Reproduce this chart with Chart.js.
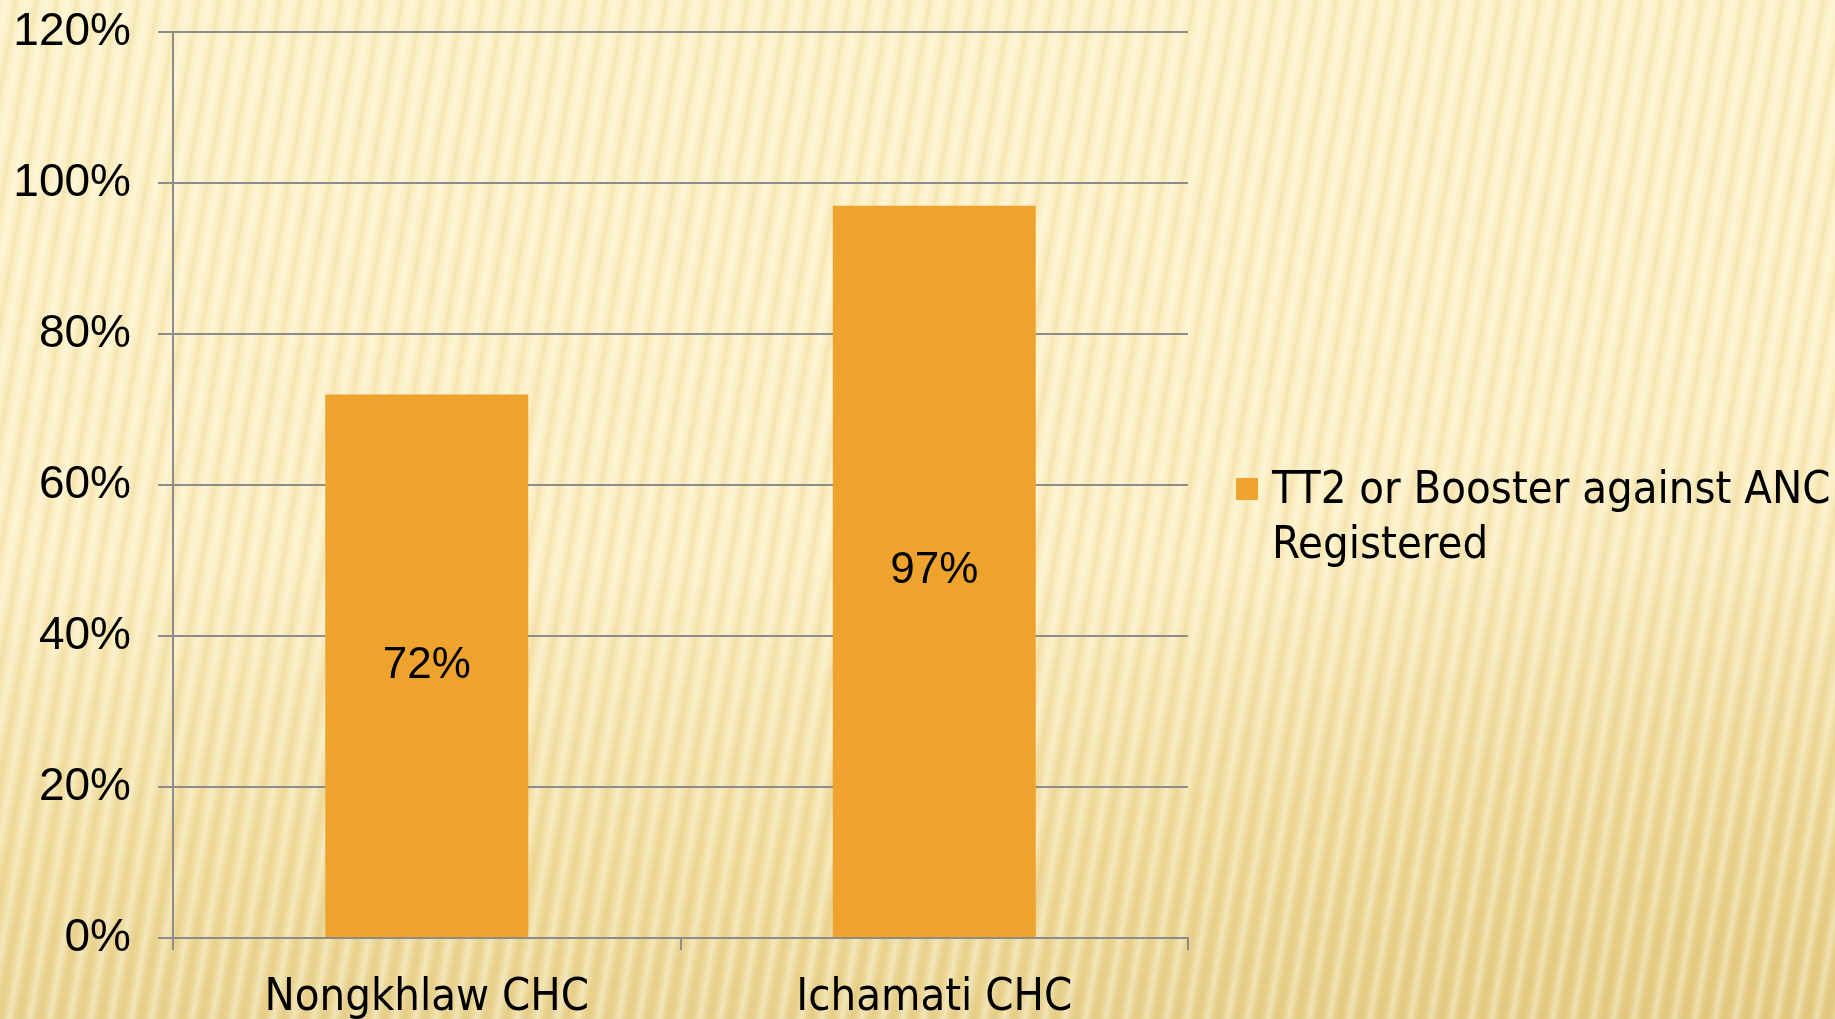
<!DOCTYPE html>
<html>
<head>
<meta charset="utf-8">
<title>TT2 or Booster against ANC Registered</title>
<style>
    html, body { margin: 0; padding: 0; }
    body {
        width: 1835px; height: 1019px; overflow: hidden;
        background:
            repeating-linear-gradient(100deg, rgba(255,255,240,0) 0px, rgba(255,255,240,0.4) 6px, rgba(255,255,240,0) 12px, rgba(200,160,60,0.12) 16px, rgba(255,255,240,0) 20px),
            radial-gradient(ellipse 900px 700px at 1800px 1100px, rgba(220,190,110,0.45), rgba(220,190,110,0) 100%),
            linear-gradient(180deg, #fcf0c6 0%, #fbedc0 55%, #f0dc9e 85%, #e9d391 100%);
    }
    #wrap { position: absolute; left: 0; top: 0; width: 1835px; height: 1019px; }
</style>
</head>
<body>
<div id="wrap"><canvas id="c" width="1835" height="1019"></canvas></div>
<script src="https://cdn.jsdelivr.net/npm/chart.js"></script>
<script>
    // data
    var categories = ["Nongkhlaw CHC", "Ichamati CHC"];
    var seriesName = "TT2 or Booster against ANC Registered";
    var values = [0.72, 0.97];
    var yTicks = [0, 0.2, 0.4, 0.6, 0.8, 1.0, 1.2];

    var barColor = "#efa32f";
    var gridColor = "#8c8c8c";
    var narrow = "'Liberation Sans Narrow', 'DejaVu Sans Condensed', 'Liberation Sans', sans-serif";
    var plain = "'Liberation Sans', Arial, sans-serif";

    function pct(v) { return Math.round(v * 100) + "%"; }

    // value labels in the middle of each bar
    var barLabels = {
        id: "barLabels",
        afterDatasetsDraw: function(chart) {
            var ctx = chart.ctx;
            var meta = chart.getDatasetMeta(0);
            ctx.save();
            ctx.font = "44px " + plain;
            ctx.fillStyle = "#000";
            ctx.textAlign = "center";
            ctx.textBaseline = "middle";
            meta.data.forEach(function(bar, i) {
                ctx.fillText(pct(chart.data.datasets[0].data[i]), bar.x, (bar.y + bar.base) / 2);
            });
            ctx.restore();
        }
    };

    // legend on the right, wrapping onto two lines
    var sideLegend = {
        id: "sideLegend",
        afterDraw: function(chart) {
            var ctx = chart.ctx;
            var area = chart.chartArea;
            var ds = chart.data.datasets[0];
            var boxX = area.right + 48, box = 22;
            var textX = boxX + box + 14;
            var midY = (area.top + area.bottom) / 2 + 4;
            var lineH = 55;
            ctx.save();
            ctx.font = "45px " + narrow;
            var words = ds.label.split(" ");
            var lines = [], cur = "";
            var maxW = chart.width - textX;
            words.forEach(function(w) {
                var t = cur ? cur + " " + w : w;
                if (ctx.measureText(t).width > maxW && cur) { lines.push(cur); cur = w; }
                else cur = t;
            });
            lines.push(cur);
            ctx.fillStyle = ds.backgroundColor;
            ctx.fillRect(boxX, midY - box / 2, box, box);
            ctx.fillStyle = "#000";
            ctx.textAlign = "left";
            ctx.textBaseline = "middle";
            lines.forEach(function(l, i) { ctx.fillText(l, textX, midY + 2 + i * lineH); });
            ctx.restore();
        }
    };

    new Chart(document.getElementById("c"), {
        type: "bar",
        data: {
            labels: categories,
            datasets: [{
                label: seriesName,
                data: values,
                backgroundColor: barColor,
                borderWidth: 0,
                categoryPercentage: 0.4,
                barPercentage: 1.0
            }]
        },
        options: {
            responsive: false,
            animation: false,
            layout: { padding: { top: 32, right: 647, bottom: 0, left: 0 } },
            plugins: {
                legend: { display: false },
                tooltip: { enabled: false }
            },
            scales: {
                x: {
                    afterFit: function(s) { s.height = 81; },
                    grid: { drawOnChartArea: false, color: gridColor, lineWidth: 2, tickLength: 12, offset: true },
                    border: { color: gridColor, width: 2 },
                    ticks: { color: "#000", font: { family: narrow, size: 45 }, padding: 21 }
                },
                y: {
                    min: 0,
                    max: 1.2,
                    afterFit: function(s) { s.width = 173; s.paddingTop = 0; s.paddingBottom = 0; },
                    afterBuildTicks: function(s) { s.ticks = yTicks.map(function(v) { return { value: v }; }); },
                    grid: { color: gridColor, lineWidth: 2, tickLength: 15 },
                    border: { color: gridColor, width: 2 },
                    ticks: { color: "#000", font: { family: plain, size: 46 }, padding: 27,
                             callback: function(v) { return pct(v); } }
                }
            }
        },
        plugins: [barLabels, sideLegend]
    });
</script>
</body>
</html>
